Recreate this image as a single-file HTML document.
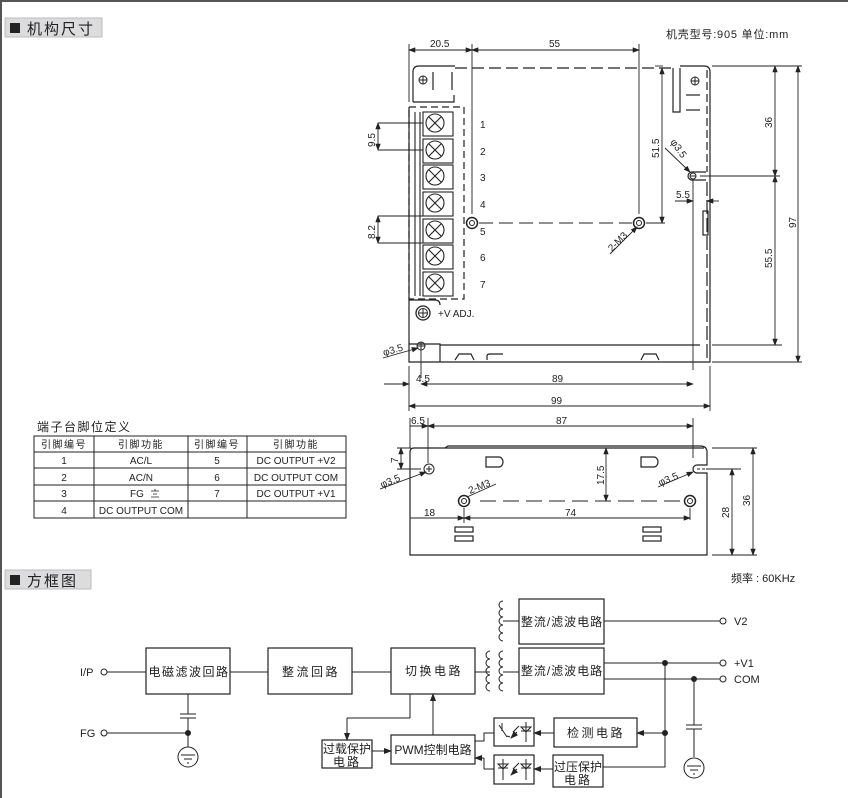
<!DOCTYPE html>
<html><head><meta charset="utf-8"><style>
html,body{margin:0;padding:0;background:#fff}
svg{display:block}
text{font-family:"Liberation Sans","Noto Sans CJK SC",sans-serif;fill:#222}
.c{font-family:"Liberation Sans","Noto Sans CJK SC",sans-serif}
</style></head><body>
<svg width="848" height="798" viewBox="0 0 848 798" xmlns="http://www.w3.org/2000/svg" stroke="#222" fill="none" stroke-width="1">
<defs>
<marker id="a" markerWidth="8" markerHeight="6" refX="7" refY="3" orient="auto"><path d="M0,0 L8,3 L0,6 z" fill="#222" stroke="none"/></marker>
<marker id="b" markerWidth="8" markerHeight="6" refX="1" refY="3" orient="auto"><path d="M8,0 L0,3 L8,6 z" fill="#222" stroke="none"/></marker>
</defs>
<line x1="1" y1="0" x2="1" y2="798" stroke="#555" stroke-width="2"/>
<line x1="0" y1="1" x2="848" y2="1" stroke="#555" stroke-width="2"/>
<rect x="5" y="18" width="97" height="19" fill="#dcdcde" stroke="#bbb"/>
<rect x="10" y="23" width="10" height="10" fill="#222" stroke="none"/>
<text x="27" y="34" font-size="15" stroke="none" letter-spacing="2" fill="#333">机构尺寸</text>
<rect x="5" y="570" width="86" height="19" fill="#dcdcde" stroke="#bbb"/>
<rect x="10" y="575" width="10" height="10" fill="#222" stroke="none"/>
<text x="27" y="586" font-size="15" stroke="none" letter-spacing="2" fill="#333">方框图</text>
<text x="666" y="38" font-size="11" stroke="none" fill="#555" letter-spacing="0.8">机壳型号:905   单位:mm</text>
<text x="731" y="582" font-size="11" stroke="none">频率 : 60KHz</text>

<g stroke-width="1.2">
<path d="M409,107 L409,362 L710,362 L710,72 Q710,66 704,66 L680,66"/>
<path d="M413,102 L413,72 Q413,66 419,66 L455,66 M413,102 L454,102 L454,95"/>
<line x1="455" y1="68" x2="672" y2="68" stroke-dasharray="12,5"/>
<path d="M673,68 L673,112 L680,112 L680,68"/>
<line x1="707" y1="70" x2="707" y2="172" stroke-dasharray="8,4"/>
<line x1="707" y1="182" x2="707" y2="360" stroke-dasharray="14,4"/>
<path d="M706,172 L692,172 A4,4 0 0 0 692,180 L706,180"/>
<rect x="703" y="211" width="5" height="24"/>
<rect x="409" y="107" width="55" height="192" stroke-dasharray="7,4"/>
<path d="M409,344 L440,344 L440,362 M440,305 Q440,300 435,300 L409,300" />
<line x1="440" y1="345" x2="700" y2="345"/>
<path d="M455,360 L459,354 L471,354 L474,360 M487,360 L487,356 Q487,354 490,354 L503,354" />
<path d="M641,360 L644,354 L656,354 L659,360"/>
<line x1="686" y1="95" x2="700" y2="95"/><line x1="686" y1="110" x2="700" y2="110"/>
<line x1="433" y1="72" x2="433" y2="90"/><line x1="452" y1="72" x2="452" y2="90"/>
</g>
<g>
<circle cx="423" cy="80" r="4"/><path d="M419,80h8M423,76v8"/>
<circle cx="695" cy="81" r="4"/><path d="M691,81h8M695,77v8"/>
<circle cx="421" cy="346" r="4"/><path d="M417,346h8M421,342v8"/>
<circle cx="693" cy="176" r="3"/><path d="M690,176h6"/>
</g>
<g stroke-width="1.1">
<rect x="423" y="112" width="30" height="24"/><circle cx="435" cy="123" r="9"/><path d="M429,117l12,12M441,117l-12,12"/>
<rect x="423" y="139" width="30" height="24"/><circle cx="435" cy="150" r="9"/><path d="M429,144l12,12M441,144l-12,12"/>
<rect x="423" y="165" width="30" height="24"/><circle cx="435" cy="176" r="9"/><path d="M429,170l12,12M441,170l-12,12"/>
<rect x="423" y="192" width="30" height="24"/><circle cx="435" cy="203" r="9"/><path d="M429,197l12,12M441,197l-12,12"/>
<rect x="423" y="219" width="30" height="24"/><circle cx="435" cy="230" r="9"/><path d="M429,224l12,12M441,224l-12,12"/>
<rect x="423" y="245" width="30" height="24"/><circle cx="435" cy="256" r="9"/><path d="M429,250l12,12M441,250l-12,12"/>
<rect x="423" y="272" width="30" height="24"/><circle cx="435" cy="283" r="9"/><path d="M429,277l12,12M441,277l-12,12"/>
<path d="M415,112v184M420,112v184"/>
</g>
<g font-size="10" stroke="none">
<text x="480" y="128">1</text><text x="480" y="155">2</text><text x="480" y="181">3</text><text x="480" y="208">4</text><text x="480" y="235">5</text><text x="480" y="261">6</text><text x="480" y="288">7</text>
<text x="438" y="317">+V ADJ.</text>
</g>
<circle cx="423" cy="313" r="7" stroke-width="1.3"/><circle cx="423" cy="313" r="4.5"/><path d="M419,313h8M423,309v8"/>
<circle cx="472" cy="223" r="5.5" stroke-width="1.5"/><circle cx="472" cy="223" r="2.5"/>
<circle cx="639" cy="223" r="5.5" stroke-width="1.5"/><circle cx="639" cy="223" r="2.5"/>
<line x1="479" y1="223" x2="632" y2="223" stroke-dasharray="14,6"/>
<line x1="646" y1="223" x2="665" y2="223"/>
<g stroke-width="0.9">
<path d="M409,44v58M472,44v170M639,44v170"/>
<line x1="409" y1="50" x2="472" y2="50" marker-start="url(#b)" marker-end="url(#a)"/>
<line x1="472" y1="50" x2="639" y2="50" marker-start="url(#b)" marker-end="url(#a)"/>
<line x1="662" y1="68" x2="662" y2="223" marker-start="url(#b)" marker-end="url(#a)"/>
<path d="M655,66h8"/>
<path d="M712,66h90M700,176h80M712,345h70M712,362h90"/>
<line x1="775" y1="66" x2="775" y2="176" marker-start="url(#b)" marker-end="url(#a)"/>
<line x1="775" y1="176" x2="775" y2="345" marker-start="url(#b)" marker-end="url(#a)"/>
<line x1="798" y1="66" x2="798" y2="362" marker-start="url(#b)" marker-end="url(#a)"/>
<line x1="675" y1="201" x2="693" y2="201" marker-end="url(#a)"/><line x1="719" y1="201" x2="707" y2="201" marker-end="url(#a)"/>
<path d="M693,180v190"/>
<path d="M378,123h45M378,150h45M378,216h45M378,243h45"/>
<line x1="378" y1="123" x2="378" y2="150" marker-start="url(#b)" marker-end="url(#a)"/>
<line x1="378" y1="216" x2="378" y2="243" marker-start="url(#b)" marker-end="url(#a)"/>
<path d="M409,366v45M421,350v28M710,366v45"/>
<line x1="384" y1="384" x2="409" y2="384" marker-end="url(#a)"/>
<line x1="421" y1="384" x2="693" y2="384" marker-start="url(#b)" marker-end="url(#a)"/>
<line x1="409" y1="406" x2="710" y2="406" marker-start="url(#b)" marker-end="url(#a)"/>
<line x1="383" y1="358" x2="418" y2="348" marker-end="url(#a)"/>
<line x1="665" y1="148" x2="690" y2="172" marker-end="url(#a)"/>
<line x1="610" y1="254" x2="637" y2="227" marker-end="url(#a)"/>
</g>
<g font-size="10" stroke="none">
<text x="430" y="47">20.5</text><text x="549" y="47">55</text>
<text x="416" y="382">4.5</text><text x="552" y="382">89</text><text x="551" y="404">99</text>
<text x="676" y="198">5.5</text>
<text transform="translate(659,158) rotate(-90)">51.5</text>
<text transform="translate(772,128) rotate(-90)">36</text>
<text transform="translate(772,268) rotate(-90)">55.5</text>
<text transform="translate(796,228) rotate(-90)">97</text>
<text transform="translate(375,147) rotate(-90)">9.5</text>
<text transform="translate(375,239) rotate(-90)">8.2</text>
<text transform="translate(384,356) rotate(-16)">φ3.5</text>
<text transform="translate(670,142) rotate(55)">φ3.5</text>
<text transform="translate(612,252) rotate(-45)">2-M3</text>
</g>

<g stroke-width="1.2">
<path d="M410,555 L410,452 Q410,448 414,448 L445,448 L448,446 L700,446 Q707,446 707,452 L707,465 L697,465 A4,4 0 0 0 697,473 L707,473 L707,555 Z"/>
<line x1="445" y1="448" x2="704" y2="448"/>
<path d="M486,457h13a4,5 0 0 1 0,10h-13z"/>
<path d="M641,457h13a4,5 0 0 1 0,10h-13z"/>
<rect x="455" y="527" width="18" height="5"/><rect x="455" y="536" width="18" height="5"/>
<rect x="643" y="527" width="18" height="5"/><rect x="643" y="536" width="18" height="5"/>
</g>
<circle cx="429" cy="469" r="5"/><path d="M426,469h6M429,466v6"/>
<circle cx="464" cy="501" r="5.5" stroke-width="1.5"/><circle cx="464" cy="501" r="2.5"/>
<circle cx="690" cy="501" r="5.5" stroke-width="1.5"/><circle cx="690" cy="501" r="2.5"/>
<line x1="480" y1="501" x2="680" y2="501" stroke-dasharray="16,7"/>
<path d="M697,469h8" stroke-dasharray="3,2"/>
<g stroke-width="0.9">
<path d="M410,418v30M428,418v45M693,418v40"/>
<line x1="410" y1="426" x2="428" y2="426" marker-end="url(#a)"/>
<line x1="428" y1="426" x2="693" y2="426" marker-start="url(#b)" marker-end="url(#a)"/>
<path d="M397,448h14M397,469h24"/>
<line x1="401" y1="448" x2="401" y2="469" marker-start="url(#b)" marker-end="url(#a)"/>
<line x1="606" y1="448" x2="606" y2="501" marker-start="url(#b)" marker-end="url(#a)"/>
<path d="M597,501h14"/>
<line x1="410" y1="518" x2="464" y2="518" marker-end="url(#a)"/>
<line x1="464" y1="518" x2="690" y2="518" marker-start="url(#b)" marker-end="url(#a)"/>
<path d="M464,508v15M690,508v12"/>
<path d="M712,448h45M706,469h35M712,555h45"/>
<line x1="732" y1="469" x2="732" y2="555" marker-start="url(#b)" marker-end="url(#a)"/>
<line x1="753" y1="448" x2="753" y2="555" marker-start="url(#b)" marker-end="url(#a)"/>
<line x1="380" y1="489" x2="426" y2="472" marker-end="url(#a)"/>
<line x1="467" y1="497" x2="496" y2="484"/>
<line x1="658" y1="487" x2="693" y2="472" marker-end="url(#a)"/>
</g>
<g font-size="10" stroke="none">
<text x="411" y="424">6.5</text><text x="556" y="424">87</text>
<text x="424" y="516">18</text><text x="565" y="516">74</text>
<text transform="translate(398,463) rotate(-90)">7</text>
<text transform="translate(604,485) rotate(-90)">17.5</text>
<text transform="translate(729,518) rotate(-90)">28</text>
<text transform="translate(750,506) rotate(-90)">36</text>
<text transform="translate(382,488) rotate(-22)">φ3.5</text>
<text transform="translate(470,494) rotate(-22)">2-M3</text>
<text transform="translate(660,486) rotate(-22)">φ3.5</text>
</g>

<text x="37" y="431" font-size="12" stroke="none" fill="#444" letter-spacing="1.5">端子台脚位定义</text>
<g stroke-width="1">
<rect x="34" y="436" width="312" height="82"/>
<path d="M34,452h312M34,468h312M34,485h312M34,501h312M94,436v82M188,436v82M247,436v82"/>
</g>
<g font-size="10" stroke="none" text-anchor="middle">
<text x="64" y="448" fill="#666" letter-spacing="1.5">引脚编号</text><text x="141" y="448" fill="#666" letter-spacing="1.5">引脚功能</text>
<text x="217" y="448" fill="#666" letter-spacing="1.5">引脚编号</text><text x="296" y="448" fill="#666" letter-spacing="1.5">引脚功能</text>
<text x="64" y="464">1</text><text x="141" y="464">AC/L</text><text x="217" y="464">5</text><text x="296" y="464">DC OUTPUT +V2</text>
<text x="64" y="481">2</text><text x="141" y="481">AC/N</text><text x="217" y="481">6</text><text x="296" y="481">DC OUTPUT COM</text>
<text x="64" y="497">3</text><text x="137" y="497">FG</text><text x="217" y="497">7</text><text x="296" y="497">DC OUTPUT +V1</text>
<text x="64" y="514">4</text><text x="141" y="514">DC OUTPUT COM</text>
</g>
<path d="M151,491h8M153,494h4M151,497h8M155,489v2" stroke-width="0.8"/>

<g font-size="11" stroke="none">
<text x="80" y="676">I/P</text><text x="80" y="737">FG</text>
<text x="734" y="625">V2</text><text x="734" y="667">+V1</text><text x="734" y="683">COM</text>
</g>
<g stroke-width="1.2">
<rect x="146" y="648" width="84" height="46"/>
<rect x="268" y="648" width="84" height="46"/>
<rect x="391" y="648" width="84" height="46"/>
<rect x="519" y="599" width="85" height="45"/>
<rect x="519" y="648" width="85" height="46"/>
<rect x="322" y="740" width="50" height="28"/>
<rect x="391" y="735" width="84" height="29"/>
<rect x="554" y="718" width="83" height="29"/>
<rect x="553" y="755" width="50" height="32"/>
<rect x="494" y="718" width="40" height="28"/>
<rect x="494" y="755" width="40" height="29"/>
</g>
<g font-size="12" stroke="none" text-anchor="middle">
<text x="189" y="676" fill="#444" letter-spacing="1.5">电磁滤波回路</text>
<text x="311" y="676" fill="#444" letter-spacing="2.5">整流回路</text>
<text x="434" y="675" fill="#444" letter-spacing="2.5">切换电路</text>
<text x="562" y="626" fill="#444" letter-spacing="1">整流/滤波电路</text>
<text x="562" y="675" fill="#444" letter-spacing="1">整流/滤波电路</text>
<text x="347" y="753" fill="#444">过载保护</text><text x="347" y="766" fill="#444" letter-spacing="2">电路</text>
<text x="433" y="754" fill="#444">PWM控制电路</text>
<text x="596" y="737" fill="#444" letter-spacing="2.5">检测电路</text>
<text x="578" y="771" fill="#444">过压保护</text><text x="578" y="784" fill="#444" letter-spacing="2">电路</text>
</g>
<g stroke-width="1">
<circle cx="104" cy="672" r="3"/><circle cx="104" cy="733" r="3"/>
<path d="M107,672h39M230,672h38M352,672h39M475,672h6"/>
<path d="M188,694v20M180,714h16M180,718h16M188,718v15M107,733h81M188,733v14"/>
<circle cx="188" cy="733" r="2.5" fill="#222"/>
<circle cx="188" cy="757" r="10"/><path d="M181,755h14M184,759h8M187,763h2"/>
<line x1="410" y1="694" x2="410" y2="718"/><line x1="410" y1="718" x2="347" y2="718"/>
<line x1="347" y1="718" x2="347" y2="740" marker-end="url(#a)"/>
<line x1="433" y1="735" x2="433" y2="694" marker-end="url(#a)"/>
<line x1="372" y1="751" x2="391" y2="751" marker-end="url(#a)"/>
<path d="M490,651a4,4 0 0 0 0,8a4,4 0 0 0 0,8a4,4 0 0 0 0,8a4,4 0 0 0 0,8a4,4 0 0 0 0,8"/>
<path d="M503,651a4,4 0 0 0 0,8a4,4 0 0 0 0,8a4,4 0 0 0 0,8a4,4 0 0 0 0,8a4,4 0 0 0 0,8"/>
<path d="M503,601a4,4 0 0 0 0,8a4,4 0 0 0 0,8a4,4 0 0 0 0,8a4,4 0 0 0 0,8a4,4 0 0 0 0,8"/>
<path d="M481,672h9M503,672h16M503,621h16"/>
<path d="M604,621h116M604,663h116M604,679h116"/>
<circle cx="723" cy="621" r="3" fill="#fff"/><circle cx="723" cy="663" r="3" fill="#fff"/><circle cx="723" cy="679" r="3" fill="#fff"/>
<circle cx="665" cy="663" r="2.5" fill="#222"/><circle cx="694" cy="679" r="2.5" fill="#222"/><circle cx="665" cy="733" r="2.5" fill="#222"/>
<path d="M665,663v104h-62M694,679v46M686,725h16M686,729h16M694,729v28"/>
<circle cx="694" cy="768" r="10"/><path d="M687,766h14M690,770h8M693,774h2"/>
<line x1="665" y1="733" x2="637" y2="733" marker-end="url(#a)"/>
<line x1="554" y1="733" x2="534" y2="733" marker-end="url(#a)"/>
<line x1="553" y1="769" x2="534" y2="769" marker-end="url(#a)"/>
<path d="M494,733h-10v8h-9"/>
<line x1="494" y1="769" x2="484" y2="769"/><path d="M484,769v-11"/>
<line x1="484" y1="758" x2="475" y2="758" marker-end="url(#a)"/>
<path d="M526,722v20M521,731h10M521,727l5,5l5,-5z"/>
<path d="M499,725l8,12M502,723v8" /><path d="M510,737l-3,-1" />
<path d="M519,726l-6,6M517,732l-6,6" marker-end="url(#a)"/>
<path d="M526,759v21M521,768h10M521,764l5,5l5,-5z"/>
<path d="M503,759v21M498,768h10M498,764l5,5l5,-5z"/>
<path d="M519,763l-6,6M517,769l-6,6" marker-end="url(#a)"/>
</g>
</svg>
</body></html>
